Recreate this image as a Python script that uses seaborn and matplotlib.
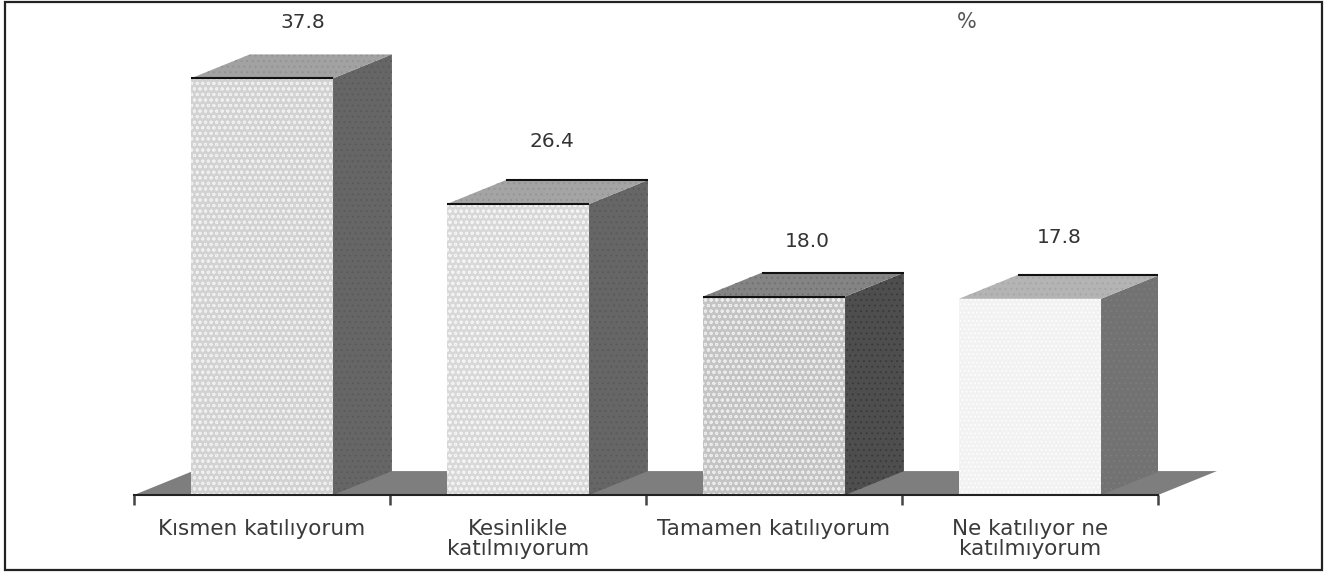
import matplotlib
matplotlib.use('Agg')
import matplotlib.pyplot as plt
from matplotlib.patches import Polygon, Rectangle
import seaborn as sns

categories = ['Kısmen katılıyorum', 'Kesinlikle\nkatılmıyorum', 'Tamamen katılıyorum', 'Ne katılıyor ne\nkatılmıyorum']
values = [37.8, 26.4, 18.0, 17.8]
value_labels = ['37.8', '26.4', '18.0', '17.8']

front_colors = ['#d2d2d2', '#d8d8d8', '#c4c4c4', '#f2f2f2']
hatch_colors = ['#f0f0f0', '#f4f4f4', '#ececec', '#ffffff']
hatches = ['ooo', 'ooo', 'ooo', '....']
side_colors = ['#666666', '#666666', '#4e4e4e', '#727272']
side_hatch = ['#5a5a5a', '#5a5a5a', '#3a3a3a', '#7c7c7c']
top_colors = ['#a2a2a2', '#a4a4a4', '#848484', '#b4b4b4']
top_hatch = ['#929292', '#949494', '#707070', '#a6a6a6']

# offsets of the value labels, in points from the front right corner
label_dx = [-22, -27, -27, -30]
label_dy = [40, 45, 40, 44]

depth_x = 0.23
depth_y = 2.17

def main():
    sns.set_style('white')
    plt.rcParams['font.family'] = ['DejaVu Sans']
    plt.rcParams['hatch.linewidth'] = 0.7

    fig = plt.figure(figsize=(13.26, 5.74), dpi=100)
    # axes box in pixels: 134..1158 wide, baseline at y=495
    ax = fig.add_axes([134 / 1326, (574 - 495) / 574, 1024 / 1326, 485 / 574])

    sns.barplot(x=categories, y=values, hue=categories, palette=front_colors,
                order=categories, hue_order=categories, width=0.555,
                legend=False, ax=ax, zorder=3, saturation=1)

    ax.set_xlim(-0.5, 3.5)
    ax.set_ylim(0, 44)

    # floor of the 3D box
    ax.add_patch(Polygon([(-0.5, 0), (-0.5 + depth_x, depth_y), (3.5 + depth_x, depth_y), (3.5, 0)],
                         closed=True, fc='#7e7e7e', ec='none', zorder=1, clip_on=False))

    bars = [p for p in ax.patches if isinstance(p, Rectangle) and p.get_height() > 0]
    bars = sorted(bars, key=lambda p: p.get_x())
    for i, bar in enumerate(bars):
        x0 = bar.get_x()
        x1 = x0 + bar.get_width()
        h = bar.get_height()
        bar.set_hatch(hatches[i])
        bar.set_edgecolor(hatch_colors[i])
        bar.set_linewidth(0)

        ax.add_patch(Polygon([(x1, 0), (x1 + depth_x, depth_y), (x1 + depth_x, h + depth_y), (x1, h)],
                             closed=True, fc=side_colors[i], ec=side_hatch[i], hatch='...', lw=0, zorder=3))
        ax.add_patch(Polygon([(x0, h), (x0 + depth_x, h + depth_y), (x1 + depth_x, h + depth_y), (x1, h)],
                             closed=True, fc=top_colors[i], ec=top_hatch[i], hatch='...', lw=0, zorder=3))
        # dark edges on top of the box
        if i < 3:
            ax.plot([x0, x1], [h, h], color='#111111', lw=1.5, zorder=4, solid_capstyle='butt')
        if i > 0:
            ax.plot([x0 + depth_x, x1 + depth_x], [h + depth_y, h + depth_y], color='#111111', lw=1.5, zorder=4,
                    solid_capstyle='butt')

        ax.annotate(value_labels[i], (x1, h), xytext=(label_dx[i], label_dy[i]), textcoords='offset points',
                    ha='center', va='center', fontsize=14.5, color='#333333', annotation_clip=False)

    fig.text(967 / 1326, (574 - 22) / 574, '%', ha='center', va='center', fontsize=15, color='#555555')

    sns.despine(ax=ax, left=True, top=True, right=True)
    ax.spines['bottom'].set_linewidth(1.5)
    ax.spines['bottom'].set_color('#222222')
    ax.spines['bottom'].set_zorder(5)
    ax.set_yticks([])
    ax.set_xticks([-0.5, 0.5, 1.5, 2.5, 3.5])
    ax.set_xticklabels([])
    ax.tick_params(axis='x', which='major', bottom=True, length=7, width=1.8, color='#444444')
    ax.set_xticks([0, 1, 2, 3], minor=True)
    ax.set_xticklabels(categories, minor=True, fontsize=15.5, color='#3a3a3a', linespacing=1.0)
    ax.tick_params(axis='x', which='minor', bottom=False, length=0, pad=17)

    # outer frame
    fig.add_artist(Rectangle((5 / 1326, (574 - 570) / 574), 1317 / 1326, 568 / 574, fill=False,
                             ec='#222222', lw=1.6, transform=fig.transFigure))

    fig.savefig('out.png', dpi=100)
    plt.close(fig)

if __name__ == '__main__':
    main()
